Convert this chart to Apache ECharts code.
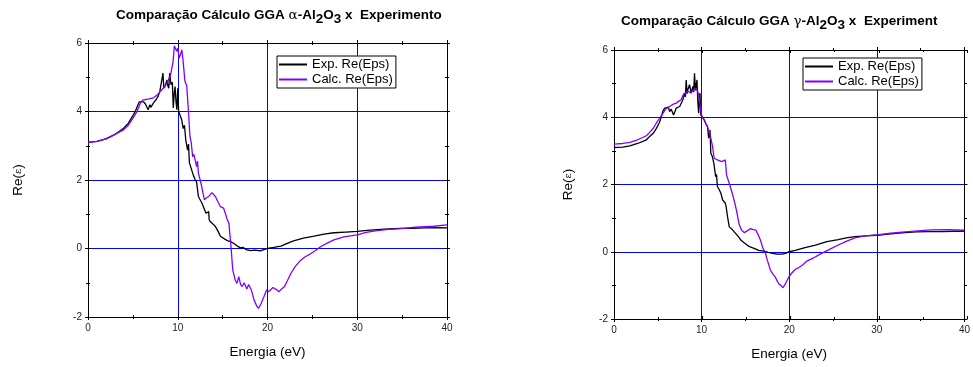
<!DOCTYPE html>
<html>
<head>
<meta charset="utf-8">
<script src="https://cdn.jsdelivr.net/npm/echarts@6/dist/echarts.min.js"></script>
<style>html,body{margin:0;padding:0;background:#fff}#c{width:973px;height:367px}</style>
</head>
<body>
<div id="c"></div>
<script>
// ---- data: alpha-Al2O3 (left chart) ----
const alphaExpX = [0,1,2,3,4,4.5,5,5.3,5.5,5.7,5.9,6.2,6.4,6.5,6.7,6.9,7.0,7.3,7.6,7.8,8.0,8.2,8.35,8.45,8.6,8.8,8.9,9.0,9.1,9.25,9.4,9.5,9.6,9.7,9.8,9.9,10.0,10.1,10.25,10.45,10.6,10.75,10.9,11.05,11.1,11.2,11.3,11.5,11.7,11.95,12.1,12.3,12.5,12.7,12.9,13.15,13.3,13.45,13.5,13.6,13.9,14.2,14.5,14.75,15.2,15.6,15.9,16.3,16.7,17.0,17.3,17.6,18.1,18.6,19.2,19.6,20.0,20.7,21.5,22.2,22.9,24.0,25.2,26.3,27.4,28.7,30.0,31.1,32.2,33.5,34.8,36.2,37.5,38.8,40];
const alphaExpY = [3.10,3.13,3.20,3.33,3.52,3.66,3.88,4.02,4.15,4.28,4.30,4.28,4.22,4.27,4.05,4.20,4.12,4.25,4.35,4.44,4.58,4.62,5.12,4.68,4.75,4.92,4.75,4.68,5.12,4.78,4.85,4.10,4.50,4.73,4.30,4.05,4.68,4.00,3.90,3.75,3.50,3.60,3.15,3.17,2.87,3.05,2.50,2.49,2.17,2.00,1.94,1.52,1.55,1.32,1.30,1.03,1.00,1.08,0.85,0.79,0.72,0.64,0.50,0.36,0.28,0.22,0.20,0.14,0.06,0.02,0.03,-0.03,-0.06,-0.05,-0.07,-0.03,0.00,0.03,0.07,0.15,0.22,0.30,0.36,0.42,0.46,0.48,0.50,0.53,0.55,0.57,0.59,0.59,0.60,0.61,0.60];
const alphaCalcX = [0,1,2,2.5,3,4,4.5,5.1,5.5,5.84,6.1,6.3,6.8,7.3,7.7,8.07,8.5,8.8,9.18,9.48,9.62,9.74,9.88,10.0,10.16,10.35,10.45,10.57,10.8,11.0,11.18,11.36,11.5,11.66,11.8,11.92,12.1,12.2,12.3,12.5,12.67,12.97,13.2,13.46,13.8,14.0,14.2,14.5,14.76,15.1,15.3,15.5,15.7,15.95,16.13,16.4,16.6,16.8,17.0,17.17,17.4,17.7,17.9,18.2,18.5,18.8,19.0,19.3,19.6,19.9,20.15,20.6,21.0,21.26,21.5,21.9,22.2,22.6,23.1,23.7,24.2,24.7,25.4,25.9,26.6,27.4,28.5,30.0,31.0,32.2,33.5,34.8,36.5,38.5,40];
const alphaCalcY = [3.10,3.13,3.20,3.26,3.33,3.47,3.60,3.84,4.02,4.25,4.33,4.36,4.37,4.40,4.48,4.59,4.72,4.83,5.05,5.45,5.92,5.93,5.76,5.85,5.56,5.70,5.80,5.55,4.88,4.75,4.05,3.27,3.10,2.68,2.75,2.70,2.39,2.55,2.20,2.00,1.81,1.42,1.48,1.52,1.63,1.58,1.52,1.35,1.22,1.18,1.03,0.85,0.74,0.00,-0.63,-0.92,-1.02,-0.82,-1.05,-1.11,-1.00,-1.18,-1.05,-1.21,-1.50,-1.68,-1.75,-1.60,-1.41,-1.21,-1.26,-1.14,-1.20,-1.26,-1.20,-1.11,-0.95,-0.73,-0.52,-0.34,-0.24,-0.17,-0.05,0.05,0.15,0.25,0.34,0.40,0.47,0.52,0.56,0.58,0.62,0.65,0.69];

// ---- data: gamma-Al2O3 (right chart) ----
const gammaExpX = [0,1,1.8,2.7,3.7,4.08,4.5,4.84,5.2,5.41,5.6,5.79,6.0,6.2,6.35,6.53,6.8,7.1,7.3,7.5,7.86,8.05,8.15,8.24,8.35,8.43,8.62,8.8,9.0,9.1,9.19,9.3,9.37,9.47,9.56,9.66,9.75,9.81,9.9,10.1,10.3,10.5,10.68,10.8,10.96,11.05,11.2,11.4,11.6,11.7,11.8,12.0,12.2,12.4,12.55,12.7,12.8,12.95,13.05,13.16,13.5,13.9,14.2,14.5,15.0,15.4,16.2,16.5,17.1,17.6,18.1,18.6,19.2,19.6,19.96,20.7,21.8,23.0,24.3,25.6,26.5,27.5,28.7,30.0,31.6,33.2,34.5,35.8,37.5,38.8,40];
const gammaExpY = [3.10,3.11,3.15,3.22,3.33,3.43,3.53,3.67,3.85,4.02,4.20,4.27,4.25,4.30,4.17,4.24,4.07,4.27,4.25,4.32,4.52,4.72,4.60,5.11,4.70,4.82,4.97,4.72,4.92,4.75,5.31,4.80,4.92,5.11,4.50,4.12,4.60,4.72,4.07,4.00,3.92,3.80,3.72,3.38,3.62,2.93,2.85,2.63,2.23,2.30,1.94,1.85,1.74,1.54,1.54,1.45,1.34,1.05,1.10,0.74,0.66,0.54,0.45,0.34,0.24,0.16,0.08,0.04,0.02,-0.02,-0.05,-0.07,-0.07,-0.05,0.00,0.04,0.12,0.20,0.30,0.36,0.41,0.45,0.47,0.49,0.53,0.57,0.59,0.60,0.60,0.61,0.61];
const gammaCalcX = [0,1,1.8,2.7,3.7,4.08,4.5,4.84,5.2,5.6,5.9,6.35,6.7,7.1,7.4,7.67,7.86,8.1,8.43,8.6,8.8,9.0,9.19,9.35,9.56,9.75,9.94,10.1,10.3,10.6,10.87,11.05,11.25,11.43,11.6,11.8,12.0,12.3,12.5,12.7,12.85,13.16,13.5,13.8,14.0,14.3,14.6,14.86,15.2,15.6,15.9,16.2,16.5,16.75,17.0,17.24,17.5,17.86,18.1,18.4,18.6,18.8,19.05,19.28,19.5,19.96,20.3,20.7,21.1,21.5,22.0,22.8,23.7,24.6,25.6,26.5,27.5,28.7,30.0,31.6,33.2,34.7,36.2,38.0,40];
const gammaCalcY = [3.20,3.22,3.25,3.33,3.45,3.55,3.68,3.83,3.97,4.12,4.25,4.32,4.38,4.42,4.48,4.52,4.65,4.72,4.77,4.82,4.72,4.80,4.82,4.85,4.77,4.52,4.12,3.98,3.92,3.75,3.58,3.38,3.13,2.78,2.75,2.73,2.70,2.68,2.65,2.73,2.28,2.03,1.74,1.44,1.20,0.80,0.63,0.57,0.62,0.69,0.66,0.64,0.48,0.32,0.10,0.00,-0.25,-0.55,-0.65,-0.75,-0.85,-0.95,-1.00,-1.07,-0.98,-0.75,-0.63,-0.52,-0.47,-0.40,-0.28,-0.18,-0.05,0.07,0.20,0.31,0.41,0.47,0.50,0.55,0.59,0.62,0.65,0.66,0.64];

const xTicks = [0,10,20,30,40];
const yTicks = [-2,0,2,4,6];
const seriesNames = ['Exp. Re(Eps)','Calc. Re(Eps)'];
const titleLeft = ['Comparação Cálculo GGA ', 'α', '-Al', '2', 'O', '3', ' x  Experimento'];
const titleRight = ['Comparação Cálculo GGA ', 'γ', '-Al', '2', 'O', '3', ' x  Experiment'];
const xName = 'Energia (eV)';

const FONT = 'Arial, "Liberation Sans", sans-serif';
const BLUE = '#0000ff';
const PURPLE = '#8000ff';

function zip(xs, ys){ return xs.map((x,i)=>[x, ys[i]]); }

const plotRects = [
  {left: 88, right: 526, top: 43, bottom: 50},
  {left: 614, right: 6, top: 50, bottom: 48}
];
// main grids (0,1) + overlay grids (2,3) for inward ticks
const grids = plotRects.concat(plotRects.map(r => Object.assign({}, r)));

const xMin = xTicks[0], xMax = xTicks[xTicks.length-1], xInt = xTicks[1]-xTicks[0];
const yMin = yTicks[0], yMax = yTicks[yTicks.length-1], yInt = yTicks[1]-yTicks[0];

function tick(inside){ return {show: true, inside, length: 3, lineStyle: {color: '#000', width: 1}}; }
function minor(){ return {show: true, splitNumber: 2, length: 2, lineStyle: {color: '#000', width: 1}}; }
const labelStyle = {show: true, fontFamily: FONT, fontSize: 10, color: '#222', margin: 6};

const xAxes = [], yAxes = [];
[0,1].forEach(gi => {
  xAxes.push({gridIndex: gi, type: 'value', min: xMin, max: xMax, interval: xInt, position: 'bottom',
    name: xName, nameLocation: 'middle', nameGap: 28,
    nameTextStyle: {fontFamily: FONT, fontSize: 13.5, color: '#000'},
    axisLine: {show: true, onZero: false, lineStyle: {color: '#000', width: 1}},
    axisTick: tick(false), minorTick: minor(), axisLabel: labelStyle,
    splitLine: {show: true, lineStyle: {color: BLUE, width: 1}}, minorSplitLine: {show: false}});
  xAxes.push({gridIndex: gi, type: 'value', min: xMin, max: xMax, interval: xInt, position: 'top',
    axisLine: {show: true, onZero: false, lineStyle: {color: '#000', width: 1}},
    axisTick: tick(false), minorTick: minor(), axisLabel: {show: false},
    splitLine: {show: false}, minorSplitLine: {show: false}});
  yAxes.push({gridIndex: gi, type: 'value', min: yMin, max: yMax, interval: yInt, position: 'left',
    name: '{n|Re(}{e|ε}{n|)}', nameLocation: 'middle', nameGap: gi === 0 ? 63 : 39,
    nameTextStyle: {fontFamily: FONT, fontSize: 13.5, color: '#000',
      rich: {n: {fontFamily: FONT, fontSize: 13.5, color: '#000'}, e: {fontFamily: '"DejaVu Serif", serif', fontSize: 10, color: '#000'}}},
    axisLine: {show: true, onZero: false, lineStyle: {color: '#000', width: 1}},
    axisTick: tick(false), minorTick: minor(), axisLabel: labelStyle,
    splitLine: {show: true, lineStyle: {color: BLUE, width: 1}}, minorSplitLine: {show: false}});
  yAxes.push({gridIndex: gi, type: 'value', min: yMin, max: yMax, interval: yInt, position: 'right',
    axisLine: {show: true, onZero: false, lineStyle: {color: '#000', width: 1}},
    axisTick: tick(false), minorTick: minor(), axisLabel: {show: false},
    splitLine: {show: false}, minorSplitLine: {show: false}});
});
[2,3].forEach(gi => {
  ['bottom','top'].forEach(pos => xAxes.push({gridIndex: gi, type: 'value', min: xMin, max: xMax, interval: xInt, position: pos,
    axisLine: {show: false, onZero: false}, axisTick: tick(true), minorTick: minor(),
    axisLabel: {show: false}, splitLine: {show: false}, minorSplitLine: {show: false}}));
  ['left','right'].forEach(pos => yAxes.push({gridIndex: gi, type: 'value', min: yMin, max: yMax, interval: yInt, position: pos,
    axisLine: {show: false, onZero: false}, axisTick: tick(true), minorTick: minor(),
    axisLabel: {show: false}, splitLine: {show: false}, minorSplitLine: {show: false}}));
});

function mkSeries(name, gi, data, color){
  return {name, type: 'line', xAxisIndex: gi * 2, yAxisIndex: gi * 2,
    data, symbol: 'none', showSymbol: false, smooth: false, z: 4,
    lineStyle: {color, width: 1.3}, itemStyle: {color}, animation: false};
}

const series = [
  mkSeries(seriesNames[0], 0, zip(alphaExpX, alphaExpY), '#000'),
  mkSeries(seriesNames[1], 0, zip(alphaCalcX, alphaCalcY), PURPLE),
  mkSeries(seriesNames[0], 1, zip(gammaExpX, gammaExpY), '#000'),
  mkSeries(seriesNames[1], 1, zip(gammaCalcX, gammaCalcY), PURPLE)
];

function richTitle(parts){
  const keys = ['b','g','b','s','b','s','b'];
  return parts.map((p,i)=>'{' + keys[i] + '|' + p + '}').join('');
}
const titleRich = {
  b: {fontFamily: FONT, fontSize: 13.5, fontWeight: 'bold', color: '#000'},
  g: {fontFamily: '"DejaVu Serif", serif', fontSize: 13.5, fontWeight: 'normal', color: '#000'},
  s: {fontFamily: FONT, fontSize: 13.5, fontWeight: 'bold', color: '#000', padding: [8,0,0,0]}
};

function legendFor(left, top){
  return {show: true, orient: 'vertical', left, top, data: seriesNames.slice(),
    icon: 'rect', itemWidth: 28, itemHeight: 2, itemGap: 2, padding: [2,3,2,2],
    borderColor: '#000', borderWidth: 1, backgroundColor: '#fff',
    textStyle: {fontFamily: FONT, fontSize: 13, color: '#000'},
    selectedMode: false};
}

const chart = echarts.init(document.getElementById('c'), null, {renderer: 'canvas'});
chart.setOption({
  animation: false,
  backgroundColor: '#fff',
  grid: grids,
  xAxis: xAxes,
  yAxis: yAxes,
  legend: [legendFor(277, 56), legendFor(803, 58)],
  series,
  graphic: [
    {type: 'text', left: 116, top: 8, style: {text: richTitle(titleLeft), rich: titleRich, fill: '#000'}},
    {type: 'text', left: 621, top: 14, style: {text: richTitle(titleRight), rich: titleRich, fill: '#000'}}
  ]
});
</script>
</body>
</html>
